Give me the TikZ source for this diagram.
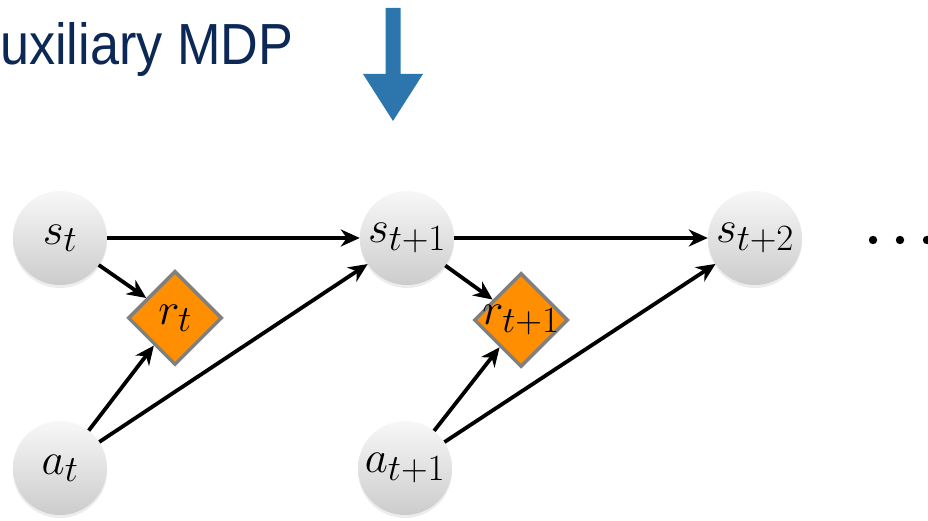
\RequirePackage{fix-cm}
\documentclass[tikz,border=0pt]{standalone}
\usepackage{fontspec}
\newfontfamily\titlefont[FakeStretch=0.9]{Liberation Sans}
\usetikzlibrary{shapes.geometric, arrows.meta, shadows}
\DeclareMathSizes{45}{45}{37}{29}
\definecolor{mdpnavy}{RGB}{12, 40, 86}
\definecolor{mdpblue}{RGB}{44, 118, 173}
\definecolor{mdporange}{RGB}{255, 142, 0}
\definecolor{mdpgray}{RGB}{128, 128, 128}

\tikzset{
    estado/.style={circle, minimum size=94pt, inner sep=0pt,
        top color=black!3, bottom color=black!20,
        drop shadow={opacity=0.15, shadow xshift=0pt, shadow yshift=-3pt},
        font=\fontsize{45}{45}\selectfont},
    recompensa/.style={diamond, minimum width=94pt, minimum height=94pt,
        inner sep=0pt, fill=mdporange, draw=mdpgray, line width=3.5pt,
        font=\fontsize{45}{45}\selectfont},
    flecha/.style={-{Stealth[length=19pt, width=17pt, inset=6pt]}, line width=3.8pt}
}

\begin{document}
\begin{tikzpicture}[x=1pt, y=1pt]
\useasboundingbox (0,0) rectangle (928,521);
\clip (0,0) rectangle (928,521);

% === Titulo y flecha azul ===
\node[anchor=base west, inner sep=0pt, text=mdpnavy,
      font=\titlefont\fontsize{58}{58}\selectfont] (titulo) at (0,456) {uxiliary MDP};
\fill[mdpblue] (385.5,513) -- (400.5,513) -- (400.5,447) -- (423,447)
    -- (393,400) -- (363,447) -- (385.5,447) -- cycle;

% === Estados y acciones ===
\node[estado] (s0) at (60,283) {$s_t$};
\node[estado] (s1) at (407,283) {$s_{t+1}$};
\node[estado] (s2) at (755,283) {$s_{t+2}$};
\node[estado] (a0) at (60,53) {$a_t$};
\node[estado] (a1) at (405,53) {$a_{t+1}$};

% === Recompensas ===
\node[recompensa] (r0) at (175,203) {\makebox[0pt]{$r_t$}};
\node[recompensa] (r1) at (521,201) {\makebox[0pt]{$r_{t+1}$}};

% Puntos suspensivos
\foreach \x in {873,900,927} {
    \fill (\x,281) circle (4.2pt);
}

% === Aristas ===
\draw[flecha] (s0) -- (s1);
\draw[flecha] (s1) -- (s2);
\draw[flecha] (s0) -- (r0);
\draw[flecha] (s1) -- (r1);
\draw[flecha] (a0) -- (r0);
\draw[flecha] (a0) -- (s1);
\draw[flecha] (a1) -- (r1);
\draw[flecha] (a1) -- (s2);

\end{tikzpicture}
\end{document}
